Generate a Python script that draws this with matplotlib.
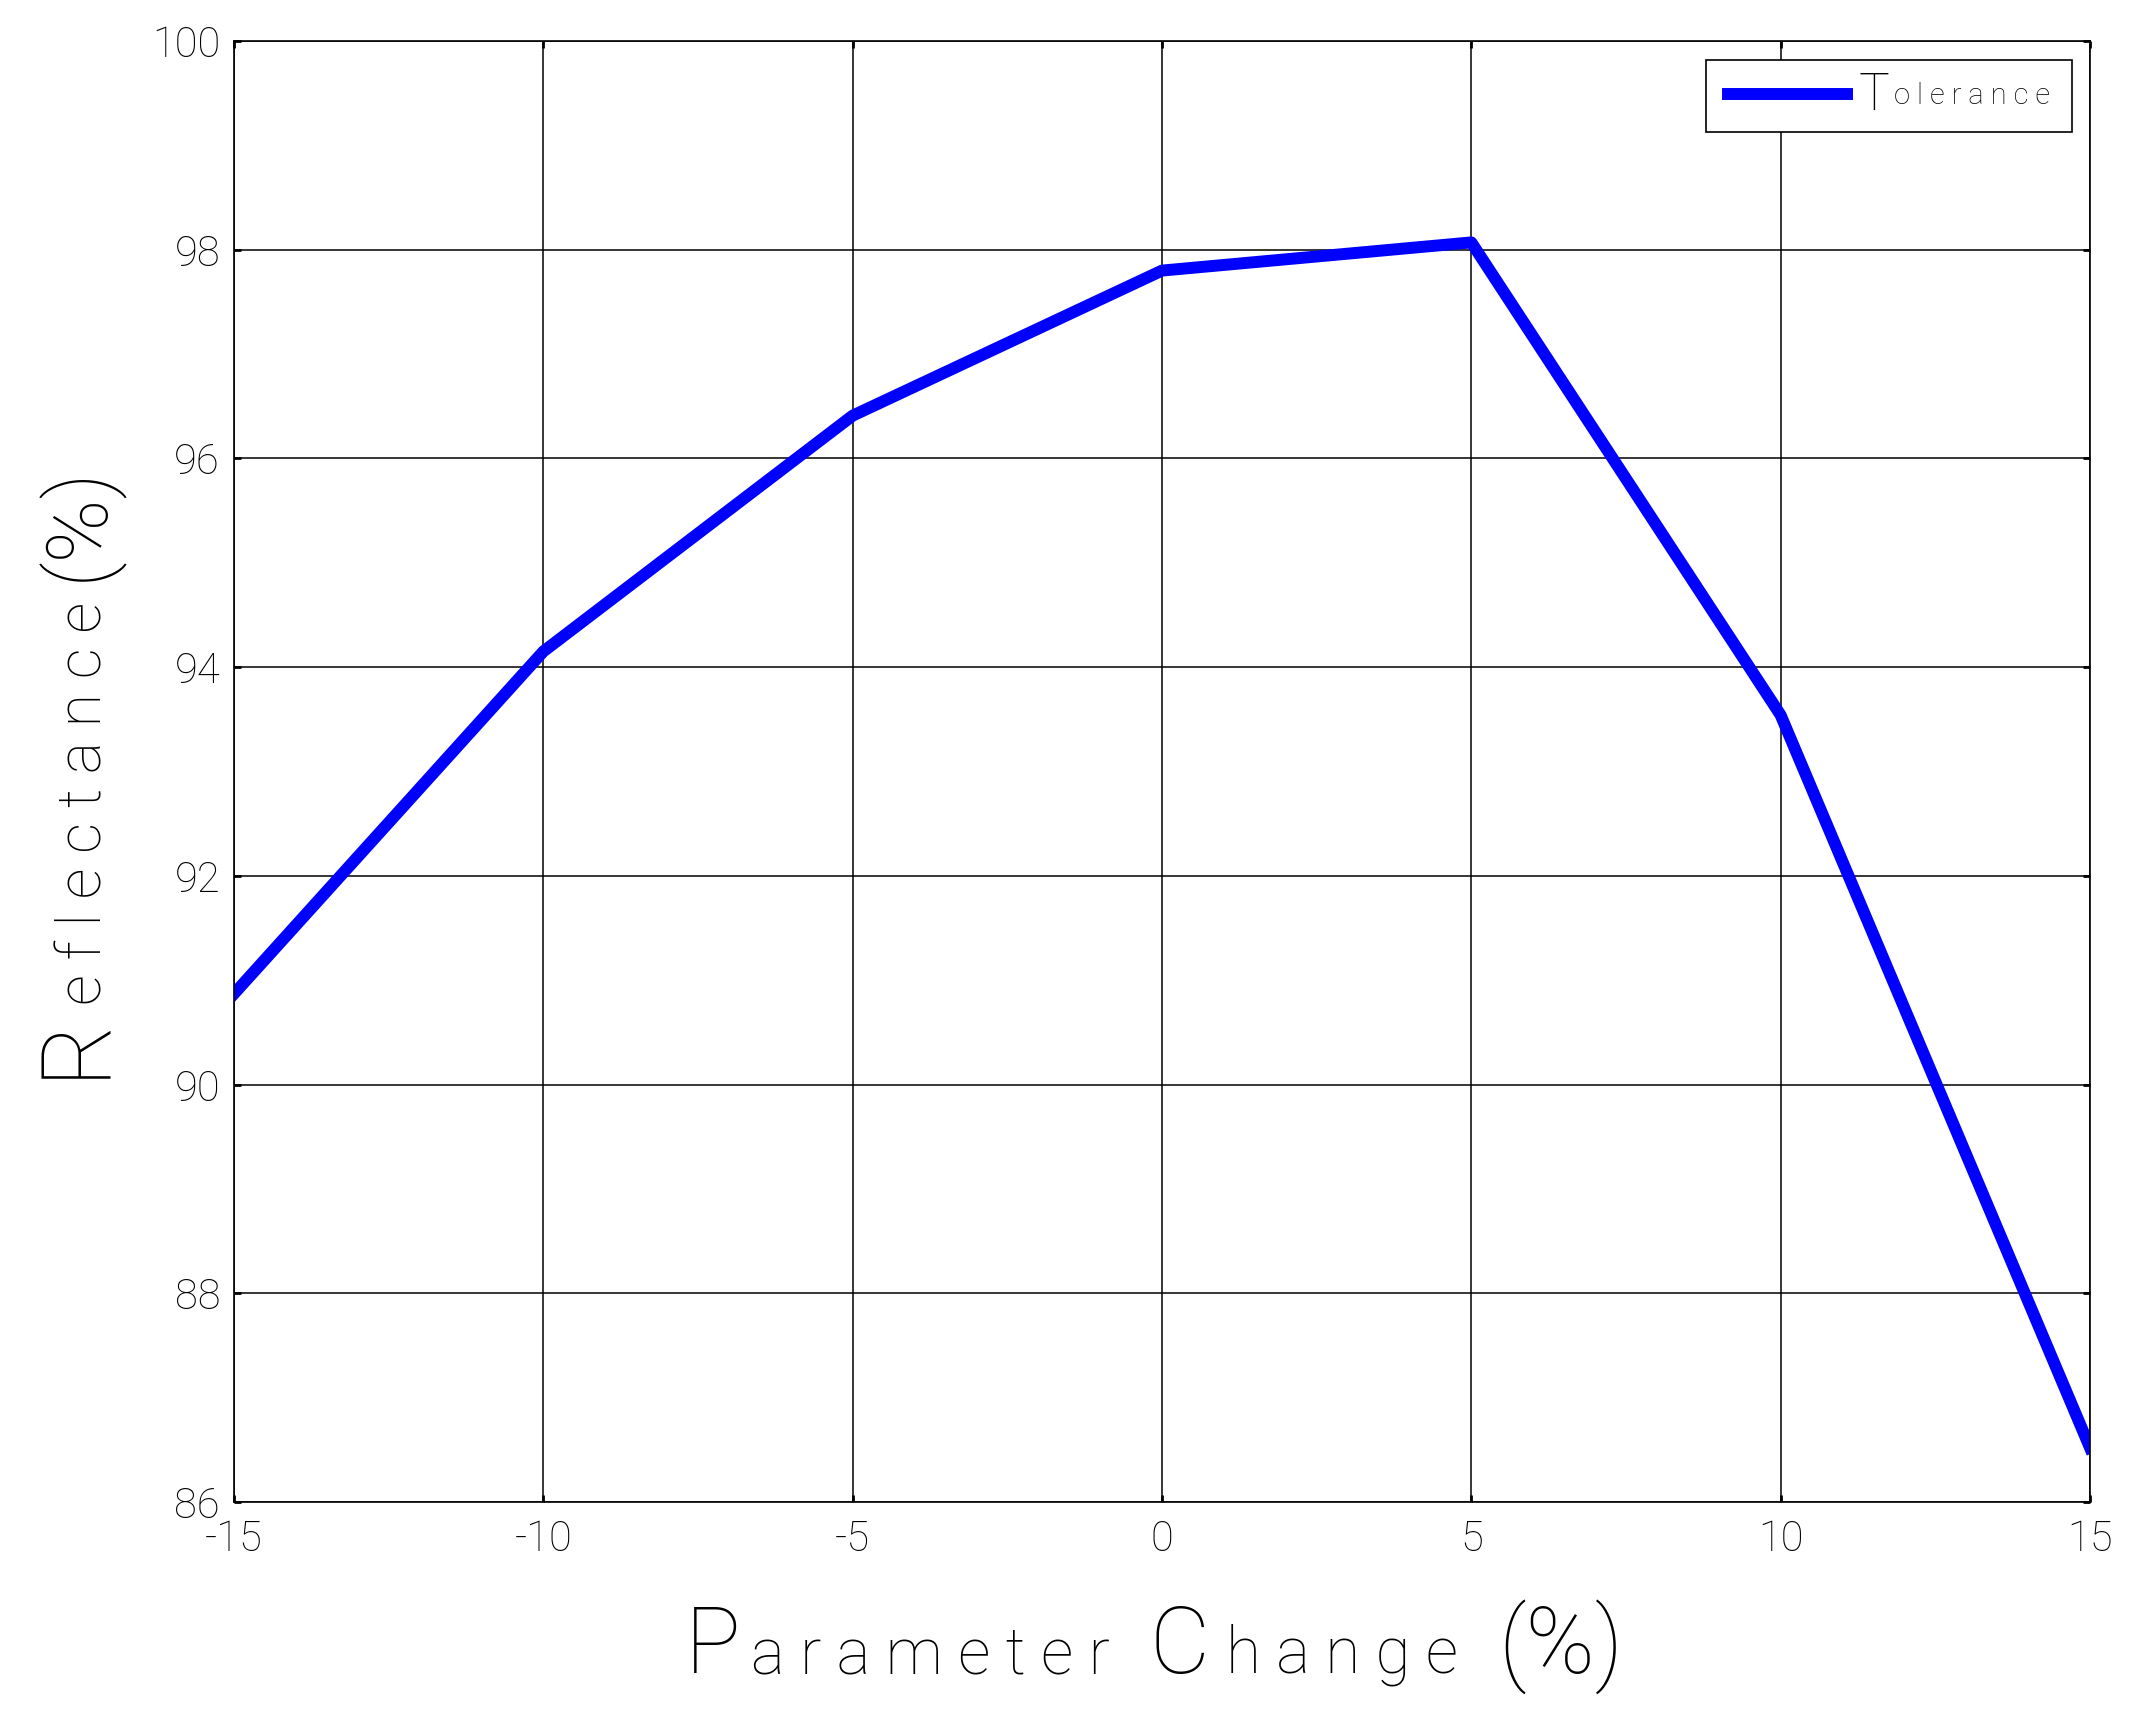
import matplotlib
matplotlib.use("Agg")
import matplotlib.pyplot as plt
from matplotlib.transforms import IdentityTransform

# values
change = [-15, -10, -5, 0, 5, 10, 15]
reflectance = [90.87, 94.15, 96.41, 97.80, 98.07, 93.54, 86.52]
x_ticks = [-15, -10, -5, 0, 5, 10, 15]
y_ticks = [86, 88, 90, 92, 94, 96, 98, 100]

plt.rcParams['font.family'] = ['Roboto', 'DejaVu Sans']
plt.rcParams['font.weight'] = 'light'
plt.rcParams['axes.unicode_minus'] = False

W, H = 2133, 1713
fig = plt.figure(figsize=(W / 100, H / 100), dpi=100)
ax = fig.add_axes([234 / W, 1 - 1502 / H, (2090 - 234) / W, (1502 - 41) / H])

line, = ax.plot(change, reflectance, color='#0000ff', lw=8.6)

ax.set_xlim(-15, 15)
ax.set_ylim(86, 100)
ax.set_xticks(x_ticks)
ax.set_yticks(y_ticks)
ax.grid(True, color='black', lw=1.1)
ax.set_axisbelow(True)
ax.tick_params(direction='in', length=5, width=2, top=True, right=True,
               labelsize=30, pad=10, labelcolor='black')
ax.tick_params(axis='x', pad=12)
for s in ax.spines.values():
    s.set_linewidth(1.2)

leg = ax.legend([line], ['o l e r a n c e'], loc='upper right',
                bbox_to_anchor=(0.9903, 0.987), borderaxespad=0, fontsize=21,
                handlelength=4.1, handletextpad=1.6, borderpad=0.75,
                fancybox=False, edgecolor='black', framealpha=1)
leg.get_frame().set_linewidth(1.2)

fig.canvas.draw()
rend = fig.canvas.get_renderer()


def piece_label(pieces, centre, base, vertical):
    # big capitals, small spaced lower case, laid out one piece after another
    arts = []
    for s, size, gap in pieces:
        t = fig.text(0, 0, s, fontsize=size, transform=IdentityTransform(),
                     ha='left', va='baseline', rotation=90 if vertical else 0,
                     rotation_mode='anchor')
        bb = t.get_window_extent(rend)
        arts.append((t, bb.height if vertical else bb.width, gap))
    total = sum(a[1] + a[2] for a in arts)
    pos = centre - total / 2
    for t, ln, gap in arts:
        t.set_position((base, pos) if vertical else (pos, base))
        pos += ln + gap


ax_cx = (234 + 2090) / 2 - 8
ax_cy = H - (41 + 1502) / 2
piece_label([("P", 67, 10), ("a r a m e t e r", 46, 40), ("C", 67, 16),
             ("h a n g e", 46, 40), ("(%)", 67, 0)], ax_cx, H - 1673, False)
piece_label([("R", 70, 9), ("e f l e c t a n c e", 44, 21), ("(%)", 62, 0)],
            ax_cy, 102, True)

# large T in front of the legend text
lt = leg.get_texts()[0]
bb = lt.get_window_extent(rend)
d = rend.get_text_width_height_descent(lt.get_text(), lt.get_fontproperties(), False)[2]
fig.text(bb.x0 - 5, bb.y0 + d, "T", fontsize=37, transform=IdentityTransform(),
         ha='right', va='baseline')

fig.savefig("out.png", dpi=100)
